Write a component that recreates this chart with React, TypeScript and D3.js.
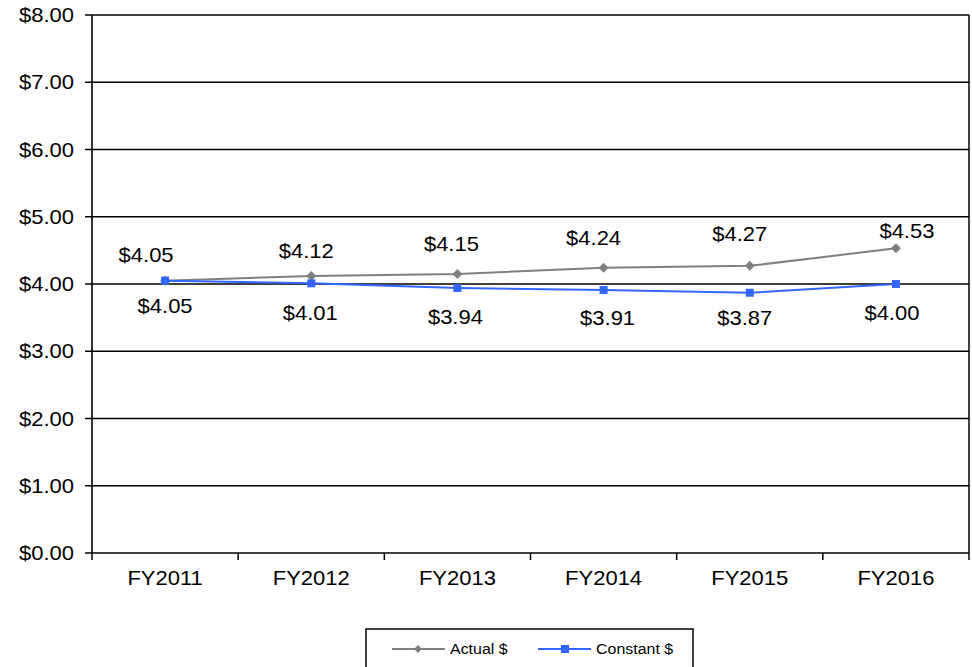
import {useEffect, useRef} from "react";
import * as d3 from "d3";

const years = ["FY2011", "FY2012", "FY2013", "FY2014", "FY2015", "FY2016"];
const actual = [4.05, 4.12, 4.15, 4.24, 4.27, 4.53];
const constant = [4.05, 4.01, 3.94, 3.91, 3.87, 4.0];
const yTicks = [0, 1, 2, 3, 4, 5, 6, 7, 8];

const FONT = "'Liberation Sans', Arial, sans-serif";
const GRAY = "#808080";
const BLUE = "#3366ff";
const SX = 1.1; // the source text is a bit wide

export default function App() {
  const svgRef = useRef<SVGSVGElement>(null);

  useEffect(() => {
    if (!svgRef.current) return;
    const svg = d3.select(svgRef.current);
    svg.selectAll("*").remove();

    const left = 92;
    const right = 969;
    const top = 15;
    const bottom = 553;

    const x = d3.scaleBand().domain(years).range([left, right]);
    const y = d3.scaleLinear().domain([0, 8]).range([bottom, top]);
    const cx = (d: string) => (x(d) ?? 0) + x.bandwidth() / 2;

    const addText = (
      g: d3.Selection<SVGGElement, unknown, null, undefined>,
      tx: number,
      ty: number,
      s: string,
      size: number,
      anchor: string,
    ) => {
      g.append("text")
        .attr("transform", `translate(${tx},${ty}) scale(${SX},1)`)
        .attr("text-anchor", anchor)
        .attr("dominant-baseline", "central")
        .style("font-family", FONT)
        .style("font-size", `${size}px`)
        .style("fill", "#000")
        .text(s);
    };

    const g = svg.append("g");

    // gridlines
    g.selectAll(".grid")
      .data(yTicks)
      .enter()
      .append("line")
      .attr("x1", left)
      .attr("x2", right)
      .attr("y1", (d) => y(d))
      .attr("y2", (d) => y(d))
      .style("stroke", "#000")
      .style("stroke-width", 1.5);

    // left axis + right border
    g.append("line").attr("x1", left).attr("x2", left).attr("y1", top).attr("y2", bottom).style("stroke", "#000").style("stroke-width", 1.6);
    g.append("line").attr("x1", right).attr("x2", right).attr("y1", top).attr("y2", bottom).style("stroke", "#000").style("stroke-width", 1.5);

    // y ticks
    yTicks.forEach((t) => {
      g.append("line").attr("x1", left - 7).attr("x2", left).attr("y1", y(t)).attr("y2", y(t)).style("stroke", "#000").style("stroke-width", 1.5);
      addText(g, 74, y(t), d3.format("$.2f")(t), 20, "end");
    });

    // x ticks
    const bounds = years.map((d) => x(d) ?? 0).concat([right]);
    bounds.forEach((b) => {
      g.append("line").attr("x1", b).attr("x2", b).attr("y1", bottom).attr("y2", bottom + 7).style("stroke", "#000").style("stroke-width", 1.5);
    });
    years.forEach((d) => addText(g, cx(d), 578, d, 20, "middle"));

    const line = d3
      .line<number>()
      .x((_, i) => cx(years[i]))
      .y((d) => y(d));

    const diamond = "M0,-5L5,0L0,5L-5,0Z";

    // actual
    g.append("path").attr("d", line(actual)).style("fill", "none").style("stroke", GRAY).style("stroke-width", 2);
    g.selectAll(".dia")
      .data(actual)
      .enter()
      .append("path")
      .attr("d", diamond)
      .attr("transform", (d, i) => `translate(${cx(years[i])},${y(d)})`)
      .style("fill", GRAY);

    // constant
    g.append("path").attr("d", line(constant)).style("fill", "none").style("stroke", BLUE).style("stroke-width", 2);
    g.selectAll(".sq")
      .data(constant)
      .enter()
      .append("rect")
      .attr("x", (_, i) => cx(years[i]) - 4)
      .attr("y", (d) => y(d) - 4)
      .attr("width", 8)
      .attr("height", 8)
      .style("fill", BLUE);

    // data labels (nudges follow the source's automatic placement)
    const actualDx = [-19, -5, -6, -10, -10, 11];
    const actualDy = [-26, -25, -30, -30, -32, -17];
    const constantDx = [0, -1, -2, 4, -5, -4];
    const constantDy = [25, 30, 29, 28, 25, 29];
    actual.forEach((v, i) => {
      addText(g, cx(years[i]) + actualDx[i], y(v) + actualDy[i], d3.format("$.2f")(v), 20, "middle");
    });
    constant.forEach((v, i) => {
      addText(g, cx(years[i]) + constantDx[i], y(v) + constantDy[i], d3.format("$.2f")(v), 20, "middle");
    });

    // legend
    const lg = svg.append("g");
    lg.append("rect").attr("x", 366).attr("y", 629).attr("width", 327).attr("height", 50).style("fill", "#fff").style("stroke", "#000").style("stroke-width", 1.5);
    lg.append("line").attr("x1", 392).attr("x2", 445).attr("y1", 649).attr("y2", 649).style("stroke", GRAY).style("stroke-width", 2);
    lg.append("path").attr("d", "M0,-4L4,0L0,4L-4,0Z").attr("transform", "translate(418,649)").style("fill", GRAY);
    addText(lg, 450, 649, "Actual $", 14.5, "start");
    lg.append("line").attr("x1", 538).attr("x2", 591).attr("y1", 649).attr("y2", 649).style("stroke", BLUE).style("stroke-width", 2);
    lg.append("rect").attr("x", 561).attr("y", 645).attr("width", 8).attr("height", 8).style("fill", BLUE);
    addText(lg, 596, 649, "Constant $", 14.5, "start");
  }, []);

  return (
    <svg
      ref={svgRef}
      width={972}
      height={667}
      style={{position: "absolute", left: 0, top: 0, background: "#fff", display: "block"}}
    ></svg>
  );
}
